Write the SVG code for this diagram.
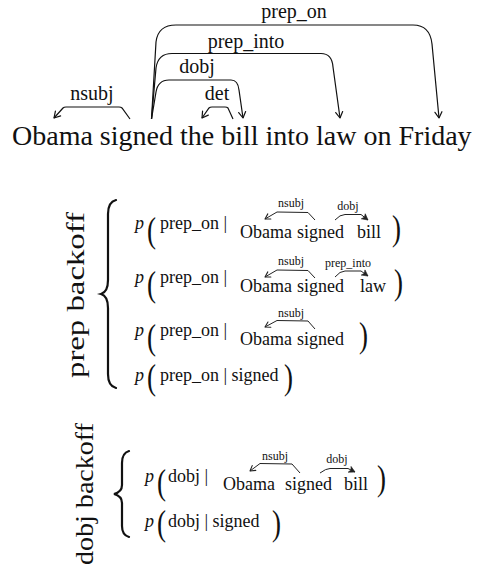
<svg xmlns="http://www.w3.org/2000/svg" width="483" height="568" viewBox="0 0 483 568">
<style>
text{font-family:"Liberation Serif","Times New Roman",serif;fill:#111}
.big{font-size:28px}
.lbl{font-size:20px;text-anchor:middle}
.row{font-size:18px}
.sm{font-size:12px;text-anchor:middle}
.it{font-style:italic}
.par{font-size:36px}
.side{font-size:25px;text-anchor:middle}
.arc{fill:none;stroke:#111;stroke-width:1.2}
.sarc{fill:none;stroke:#222;stroke-width:1}
.brace{fill:none;stroke:#111;stroke-width:2.2;stroke-linecap:round}
</style>
<defs>
<marker id="v" markerUnits="userSpaceOnUse" markerWidth="14" markerHeight="14" refX="0" refY="0" viewBox="-8 -7 10 14" orient="auto">
<path d="M-6,-3.5 L0,0 L-6,3.5" fill="none" stroke="#111" stroke-width="1.2" stroke-linecap="round" stroke-linejoin="round"/>
</marker>
<marker id="vs" markerUnits="userSpaceOnUse" markerWidth="12" markerHeight="12" refX="0" refY="0" viewBox="-7 -6 9 12" orient="auto">
<path d="M-5,-3 L0,0 L-5,3" fill="none" stroke="#222" stroke-width="1.1" stroke-linecap="round" stroke-linejoin="round"/>
</marker>
<marker id="st" markerUnits="userSpaceOnUse" markerWidth="12" markerHeight="12" refX="0" refY="0" viewBox="-7 -6 9 12" orient="auto">
<path d="M-6,-3.2 L0,0 L-6,3.2 L-4.5,0 Z" fill="#222" stroke="#222" stroke-width="0.6" stroke-linejoin="round"/>
</marker>
</defs>

<g id="sentence">
<text class="big" x="12" y="145">Obama signed the bill into law on Friday</text>
</g>

<g id="connectors">
<path class="arc" d="M130,119 L122,108 Q121,107 119,107 L66,107 Q64,107 63,108 L54,118" marker-end="url(#v)"/>
<path class="arc" d="M233,119 L228,108 Q227,107 225,107 L212,107 Q210,107 209,108 L202,118" marker-end="url(#v)"/>
<path class="arc" d="M151.5,119 L156,92 Q158,80 169,80 L231,80 Q238,80 239,90 L243,118" marker-end="url(#v)"/>
<path class="arc" d="M151.5,119 L156,68 Q158,53.5 172,53.5 L321,53.5 Q332,53.5 333,67 L340,118" marker-end="url(#v)"/>
<path class="arc" d="M151.5,119 L156,42 Q158,25 176,25 L413,25 Q430,25 432,44 L439,118" marker-end="url(#v)"/>
</g>

<g id="labels">
<text class="lbl" x="92" y="100">nsubj</text>
<text class="lbl" x="217" y="100">det</text>
<text class="lbl" x="197" y="73">dobj</text>
<text class="lbl" x="246" y="48">prep_into</text>
<text class="lbl" x="294" y="18">prep_on</text>
</g>

<g id="prep-backoff">
<text class="side" transform="translate(84,295) rotate(-90)" textLength="166" lengthAdjust="spacingAndGlyphs">prep backoff</text>
<path class="brace" d="M116,200 Q108,202 108,214 L108,280 Q108,292 101,294 Q108,296 108,308 L108,374 Q108,386 116,388"/>
</g>

<g id="prep-row1">
<text class="row it" x="135" y="229">p</text>
<text class="par" transform="translate(147,242) scale(0.75,1)">(</text>
<text class="row" x="160" y="229">prep_on |</text>
<text class="row" x="240" y="238">Obama</text>
<text class="row" x="297" y="238">signed</text>
<text class="row" x="357" y="238">bill</text>
<text class="par" transform="translate(392,240) scale(0.75,1)">)</text>
<text class="sm" x="291" y="207">nsubj</text>
<text class="sm" x="348" y="210">dobj</text>
<path class="sarc" d="M315,220 L308,212.5 L277,212 L265,219" marker-end="url(#vs)"/>
<path class="sarc" d="M335,220 Q340,214.5 345,214.5 L361,214.5 L368,220" marker-end="url(#st)"/>
</g>

<g id="prep-row2">
<text class="row it" x="135" y="283">p</text>
<text class="par" transform="translate(147,296) scale(0.75,1)">(</text>
<text class="row" x="160" y="283">prep_on |</text>
<text class="row" x="240" y="292">Obama</text>
<text class="row" x="297" y="292">signed</text>
<text class="row" x="360" y="292">law</text>
<text class="par" transform="translate(394,294) scale(0.75,1)">)</text>
<text class="sm" x="291" y="265">nsubj</text>
<text class="sm" x="348" y="267">prep_into</text>
<path class="sarc" d="M315,278 L308,270.5 L277,270 L265,277" marker-end="url(#vs)"/>
<path class="sarc" d="M335,277 Q340,271 345,271 L361,271 L368,276" marker-end="url(#st)"/>
</g>

<g id="prep-row3">
<text class="row it" x="135" y="336">p</text>
<text class="par" transform="translate(147,349) scale(0.75,1)">(</text>
<text class="row" x="160" y="336">prep_on |</text>
<text class="row" x="240" y="345">Obama</text>
<text class="row" x="297" y="345">signed</text>
<text class="par" transform="translate(359,347) scale(0.75,1)">)</text>
<text class="sm" x="291" y="317">nsubj</text>
<path class="sarc" d="M315,329 L308,321 L277,320.5 L265,327" marker-end="url(#vs)"/>
</g>

<g id="prep-row4">
<text class="row it" x="135" y="381">p</text>
<text class="par" transform="translate(147,389) scale(0.75,1)">(</text>
<text class="row" x="160" y="381">prep_on | signed</text>
<text class="par" transform="translate(284,389) scale(0.75,1)">)</text>
</g>

<g id="dobj-backoff">
<text class="side" transform="translate(93,494) rotate(-90)" textLength="142" lengthAdjust="spacingAndGlyphs">dobj backoff</text>
<path class="brace" d="M129,451 Q122,453 122,463 L122,485 Q122,492 114,494 Q122,496 122,503 L122,526 Q122,535 129,537"/>
</g>

<g id="dobj-row1">
<text class="row it" x="145" y="482">p</text>
<text class="par" transform="translate(157,494) scale(0.75,1)">(</text>
<text class="row" x="168" y="482">dobj |</text>
<text class="row" x="223" y="490">Obama</text>
<text class="row" x="285" y="490">signed</text>
<text class="row" x="344" y="490">bill</text>
<text class="par" transform="translate(377,490) scale(0.75,1)">)</text>
<text class="sm" x="275" y="460">nsubj</text>
<text class="sm" x="337" y="463">dobj</text>
<path class="sarc" d="M300,473 L292,464 L260,463.5 L250,471" marker-end="url(#vs)"/>
<path class="sarc" d="M320,473 Q326,468.5 330,468.5 L348,468.5 L355,472" marker-end="url(#st)"/>
</g>

<g id="dobj-row2">
<text class="row it" x="145" y="527">p</text>
<text class="par" transform="translate(157,535) scale(0.75,1)">(</text>
<text class="row" x="168" y="527">dobj | signed</text>
<text class="par" transform="translate(272,535) scale(0.75,1)">)</text>
</g>
</svg>
